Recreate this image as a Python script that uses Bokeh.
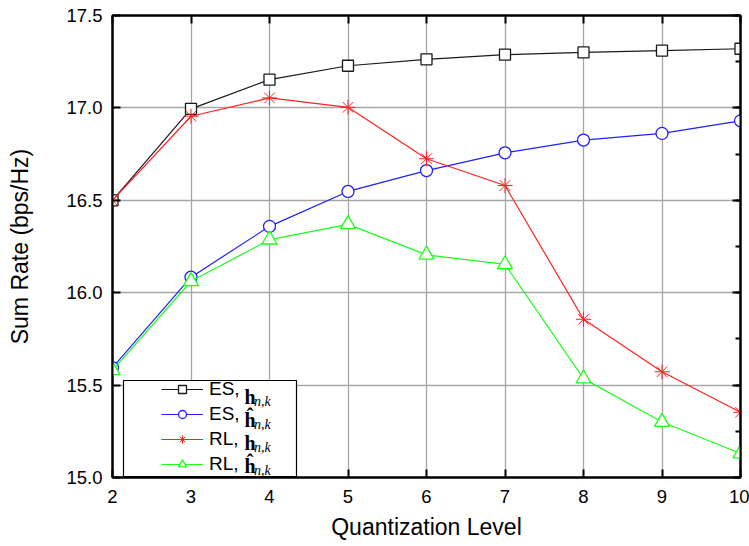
from bokeh.plotting import figure
from bokeh.models import (Range1d, LinearAxis, SingleIntervalTicker, PrintfTickFormatter,
                          Legend, LegendItem, Label, BoxAnnotation, CustomJSTickFormatter)
from bokeh.embed import file_html
from bokeh.resources import INLINE

# ---- data ----
levels = [2, 3, 4, 5, 6, 7, 8, 9, 10]
es_h = [16.50, 16.995, 17.153, 17.228, 17.263, 17.288, 17.300, 17.310, 17.320]
es_hhat = [15.595, 16.084, 16.359, 16.548, 16.661, 16.757, 16.826, 16.862, 16.930]
rl_h = [16.50, 16.955, 17.054, 17.003, 16.725, 16.580, 15.856, 15.572, 15.353]
rl_hhat = [15.580, 16.062, 16.287, 16.370, 16.205, 16.153, 15.535, 15.300, 15.130]
x_ticks_interval = 1
y_ticks_interval = 0.5
legend_prefix = ["ES,", "ES,", "RL,", "RL,"]
legend_sym = ["h", "ĥ", "h", "ĥ"]

# ---- layout ----
W, H = 749, 546
FL, FR, FT, FB = 112, 740, 15, 477
X0, X1, Y0, Y1 = 2, 10, 15, 17.5

def xd(px):
    return X0 + (px - FL) * (X1 - X0) / (FR - FL)

def yd(py):
    return Y1 - (py - FT) * (Y1 - Y0) / (FB - FT)

p = figure(width=W, height=H, x_range=Range1d(X0, X1), y_range=Range1d(Y0, Y1),
           output_backend="svg", toolbar_location=None,
           min_border_left=FL, min_border_right=W - FR, min_border_top=FT,
           min_border_bottom=H - FB)
p.background_fill_color = "white"
p.border_fill_color = "white"
p.outline_line_color = "black"
p.outline_line_width = 2

xt = SingleIntervalTicker(interval=x_ticks_interval, num_minor_ticks=0)
yt = SingleIntervalTicker(interval=y_ticks_interval, num_minor_ticks=0)
yt_minor = SingleIntervalTicker(interval=y_ticks_interval, num_minor_ticks=2)

ax = p.xaxis[0]
ax.ticker = xt
ay = p.yaxis[0]
ay.ticker = yt
ay.formatter = PrintfTickFormatter(format="%.1f")

for a in (ax, ay):
    a.major_tick_in = 8
    a.major_tick_out = 0
    a.minor_tick_in = 0
    a.minor_tick_out = 0
    a.axis_line_width = 2
    a.axis_line_color = "black"
    a.major_tick_line_width = 2
    a.major_tick_line_color = "black"
    a.major_label_text_font = "Liberation Sans"
    a.major_label_text_font_size = "18.5px"
    a.major_label_text_color = "black"
    a.axis_label_text_font = "Liberation Sans"
    a.axis_label_text_font_style = "normal"
    a.axis_label_text_color = "black"

ax.major_label_standoff = 12
ax.axis_label = "Quantization Level"
ax.axis_label_text_font_size = "23px"
ax.axis_label_standoff = 8

ay.major_label_standoff = 10
ay.axis_label = "Sum Rate (bps/Hz)"
ay.axis_label_text_font_size = "23px"
ay.axis_label_standoff = 30

top = LinearAxis(ticker=SingleIntervalTicker(interval=x_ticks_interval, num_minor_ticks=0),
                 formatter=CustomJSTickFormatter(code="return ''"))
right = LinearAxis(ticker=yt_minor, formatter=CustomJSTickFormatter(code="return ''"))
for a in (top, right):
    a.major_tick_in = 8
    a.major_tick_out = 0
    a.minor_tick_out = 0
    a.axis_line_width = 2
    a.major_tick_line_width = 2
    a.major_label_standoff = 0
top.minor_tick_in = 0
right.minor_tick_in = 5
right.minor_tick_line_width = 2
p.add_layout(top, "above")
p.add_layout(right, "right")

for g in (p.xgrid[0], p.ygrid[0]):
    g.grid_line_color = "#a6a6a6"
    g.grid_line_width = 1.3
p.xgrid[0].ticker = xt
p.ygrid[0].ticker = yt

series = [
    (es_h, "#1a1a1a", "square", 11),
    (es_hhat, "#1f1fff", "circle", 12),
    (rl_h, "#ff2020", "asterisk", 15),
    (rl_hhat, "#1aff1a", "triangle", 15),
]
items = []
for i, (vals, col, mk, sz) in enumerate(series):
    lr = p.line(levels, vals, line_color=col, line_width=1.2)
    if mk == "asterisk":
        sr = p.scatter(levels, vals, marker=mk, size=sz, line_color=col, line_width=1.0)
    else:
        sr = p.scatter(levels, vals, marker=mk, size=sz, line_color=col,
                       fill_color="white", line_width=1.3)
    items.append(LegendItem(label=legend_prefix[i], renderers=[lr, sr]))

# legend frame
box = BoxAnnotation(left=xd(123), right=xd(296), top=yd(380), bottom=yd(476),
                    fill_color="white", fill_alpha=1.0, line_color="black",
                    line_width=1.2, line_alpha=1.0)
p.add_layout(box)

leg = Legend(items=items, location=(49, 2), padding=0, spacing=3, margin=0,
             glyph_width=42, glyph_height=20, label_height=20, label_standoff=6,
             border_line_alpha=0, background_fill_alpha=0,
             label_text_font="Liberation Sans", label_text_font_size="19px",
             label_text_color="black")
p.add_layout(leg)

row_centers = [396, 419, 442, 465]
for i, rc in enumerate(row_centers):
    p.add_layout(Label(x=xd(244), y=yd(rc), text=legend_sym[i],
                       text_font="Liberation Serif", text_font_style="bold",
                       text_font_size="20px", text_baseline="middle",
                       text_align="left", text_color="black"))
    p.add_layout(Label(x=xd(253.5), y=yd(rc + 5), text="n,k",
                       text_font="Liberation Serif", text_font_style="italic",
                       text_font_size="14px", text_baseline="middle",
                       text_align="left", text_color="black"))

open("out.html", "w").write(file_html(p, INLINE))
